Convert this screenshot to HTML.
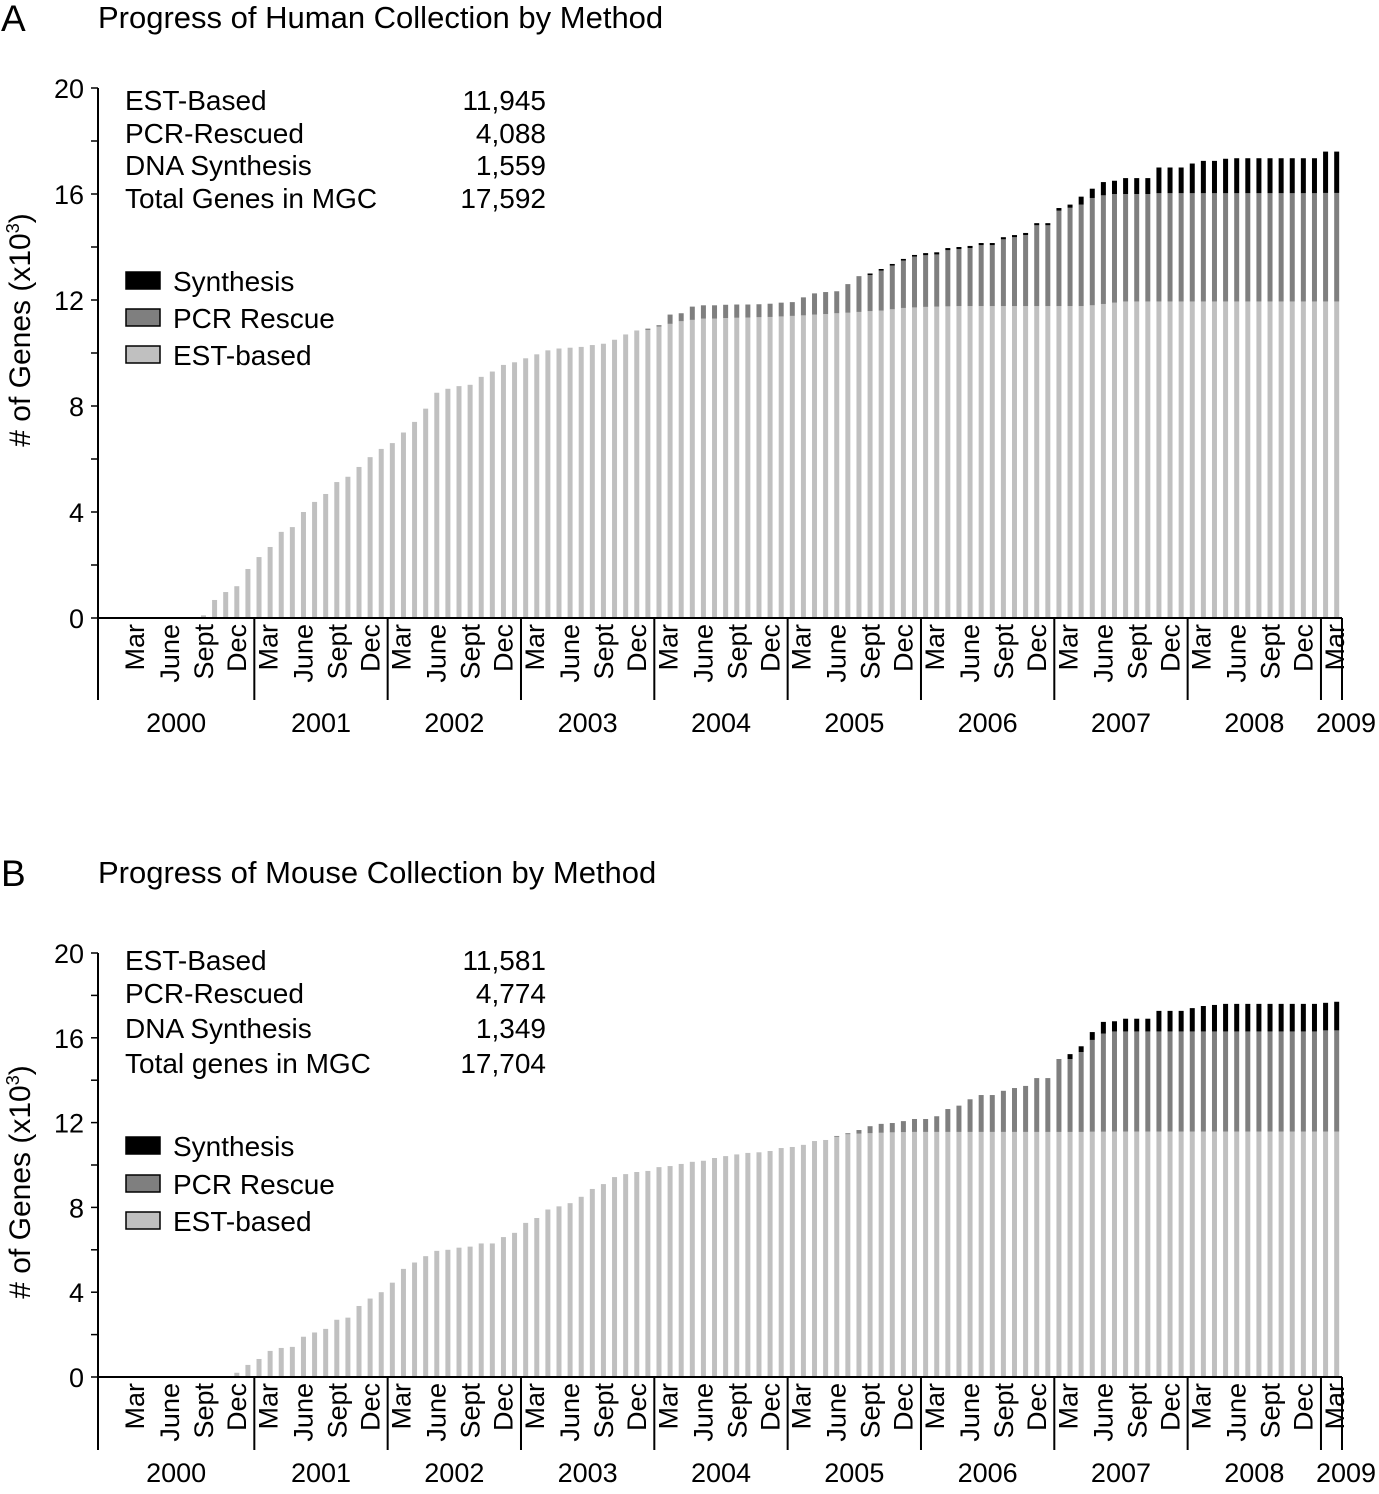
<!DOCTYPE html>
<html><head><meta charset="utf-8">
<style>
html,body{margin:0;padding:0;background:#fff;}
svg{display:block;font-family:"Liberation Sans",Arial,sans-serif;}
</style></head>
<body>
<svg id="fig" width="1379" height="1494" viewBox="0 0 1379 1494" xmlns="http://www.w3.org/2000/svg"></svg>
<script>
// Months run from Aug 2000 to Feb 2009 (values in thousands of genes)
const monthLabels = ["Mar","June","Sept","Dec"];
const yearLabels = ["2000","2001","2002","2003","2004","2005","2006","2007","2008","2009"];
const yTicks = [0,4,8,12,16,20];

const humanEst = [0.1,0.68,0.98,1.2,1.85,
 2.3,2.68,3.25,3.43,4.0,4.38,4.68,5.13,5.33,5.7,6.07,6.38,
 6.6,7.0,7.4,7.9,8.5,8.65,8.75,8.8,9.1,9.3,9.55,9.65,
 9.8,9.95,10.1,10.17,10.2,10.23,10.3,10.35,10.5,10.7,10.85,10.87,
 11.0,11.1,11.2,11.25,11.3,11.3,11.32,11.33,11.34,11.35,11.36,11.38,
 11.4,11.42,11.45,11.47,11.5,11.52,11.55,11.58,11.6,11.65,11.7,11.72,
 11.74,11.75,11.76,11.77,11.77,11.77,11.77,11.77,11.77,11.77,11.77,11.77,
 11.77,11.77,11.77,11.8,11.85,11.9,11.945,11.945,11.945,11.945,11.945,11.945,
 11.945,11.945,11.945,11.945,11.945,11.945,11.945,11.945,11.945,11.945,11.945,11.945,
 11.945,11.945];
const humanTotal = [0.1,0.68,0.98,1.2,1.85,
 2.3,2.68,3.25,3.43,4.0,4.38,4.68,5.13,5.33,5.7,6.07,6.38,
 6.6,7.0,7.4,7.9,8.5,8.65,8.75,8.8,9.1,9.3,9.55,9.65,
 9.8,9.95,10.1,10.17,10.2,10.23,10.3,10.35,10.5,10.7,10.85,10.92,
 11.05,11.45,11.5,11.75,11.8,11.8,11.82,11.83,11.83,11.84,11.86,11.9,
 11.92,12.1,12.25,12.3,12.33,12.6,12.9,13.0,13.17,13.36,13.55,13.7,
 13.77,13.8,13.96,14.0,14.04,14.15,14.15,14.37,14.45,14.53,14.9,14.9,
 15.47,15.6,15.9,16.2,16.45,16.5,16.6,16.6,16.6,17.0,17.0,17.0,
 17.15,17.25,17.25,17.33,17.35,17.35,17.35,17.35,17.35,17.35,17.35,17.35,
 17.6,17.6];
const humanSyn = [0,0,0,0,0,
 0,0,0,0,0,0,0,0,0,0,0,0,
 0,0,0,0,0,0,0,0,0,0,0,0,
 0,0,0,0,0,0,0,0,0,0,0,0,
 0,0,0,0,0,0,0,0,0,0,0,0,
 0,0,0,0,0,0,0,0.06,0.06,0.06,0.06,0.06,
 0.08,0.08,0.08,0.08,0.08,0.08,0.08,0.08,0.08,0.08,0.08,0.08,
 0.1,0.12,0.3,0.35,0.5,0.5,0.6,0.6,0.6,0.97,0.97,0.97,
 1.12,1.22,1.22,1.3,1.32,1.32,1.32,1.32,1.32,1.32,1.32,1.32,
 1.56,1.56];

const mouseEst = [0,0,0,0.2,0.57,
 0.85,1.23,1.37,1.42,1.9,2.1,2.27,2.7,2.8,3.35,3.7,4.0,
 4.45,5.1,5.4,5.7,5.95,6.0,6.1,6.15,6.3,6.3,6.6,6.8,
 7.27,7.5,7.9,8.05,8.2,8.5,8.87,9.1,9.43,9.57,9.67,9.72,
 9.9,9.95,10.05,10.15,10.2,10.33,10.42,10.5,10.57,10.6,10.66,10.8,
 10.85,10.95,11.13,11.18,11.33,11.45,11.48,11.5,11.52,11.54,11.55,11.56,
 11.56,11.56,11.56,11.56,11.56,11.56,11.56,11.56,11.56,11.56,11.56,11.56,
 11.56,11.56,11.56,11.57,11.57,11.58,11.58,11.58,11.58,11.58,11.58,11.58,
 11.58,11.58,11.58,11.58,11.58,11.58,11.58,11.58,11.58,11.58,11.58,11.58,
 11.58,11.58];
const mouseTotal = [0,0,0,0.2,0.57,
 0.85,1.23,1.37,1.42,1.9,2.1,2.27,2.7,2.8,3.35,3.7,4.0,
 4.45,5.1,5.4,5.7,5.95,6.0,6.1,6.15,6.3,6.3,6.6,6.8,
 7.27,7.5,7.9,8.05,8.2,8.5,8.87,9.1,9.43,9.57,9.67,9.72,
 9.9,9.95,10.05,10.15,10.2,10.33,10.42,10.5,10.57,10.6,10.66,10.8,
 10.85,10.95,11.13,11.18,11.37,11.5,11.65,11.83,11.94,11.98,12.07,12.17,
 12.17,12.3,12.64,12.8,13.1,13.3,13.3,13.5,13.63,13.73,14.1,14.1,
 15.0,15.23,15.6,16.27,16.75,16.78,16.9,16.9,16.9,17.27,17.27,17.27,
 17.4,17.5,17.55,17.6,17.6,17.6,17.6,17.6,17.6,17.6,17.6,17.6,
 17.65,17.7];
const mouseSyn = [0,0,0,0,0,
 0,0,0,0,0,0,0,0,0,0,0,0,
 0,0,0,0,0,0,0,0,0,0,0,0,
 0,0,0,0,0,0,0,0,0,0,0,0,
 0,0,0,0,0,0,0,0,0,0,0,0,
 0,0,0,0,0,0,0,0,0,0,0,0,
 0,0,0,0,0,0,0,0,0,0,0,0,
 0,0.23,0.27,0.37,0.55,0.48,0.6,0.6,0.6,0.97,0.97,0.97,
 1.1,1.2,1.25,1.3,1.3,1.3,1.3,1.3,1.3,1.3,1.3,1.3,
 1.3,1.35];

const humanStats = [["EST-Based","11,945"],["PCR-Rescued","4,088"],["DNA Synthesis","1,559"],["Total Genes in MGC","17,592"]];
const mouseStats = [["EST-Based","11,581"],["PCR-Rescued","4,774"],["DNA Synthesis","1,349"],["Total genes in MGC","17,704"]];

const NS="http://www.w3.org/2000/svg";
const svg=document.getElementById('fig');
function mk(tag,attrs,parent){const e=document.createElementNS(NS,tag);for(const k in attrs)e.setAttribute(k,attrs[k]);(parent||svg).appendChild(e);return e;}
function txt(s,attrs,parent){const e=mk('text',attrs,parent);e.textContent=s;return e;}

const X0=98, XEND=1342, MONTH=11.11, FIRST_CENTER=125.7, START_M=7;
function xMonth(i){return FIRST_CENTER+MONTH*(START_M+i);}
function yearStart(k){return 121+133.33*k;}

function panel(opt){
  const g=mk('g',{});
  
  
  const y0=opt.y0, y20=opt.y20, bottom=opt.bottom;
  const yS=v=>y0-(y0-y20)*v/20;
  const lbl=txt(opt.letter,{x:1,y:opt.titleY+13,'font-size':37},g);
  
  const t=txt(opt.title,{x:98,y:opt.titleY+10,'font-size':31},g);
  
  // bars
  const bars=mk('g',{},g);
  
  for(let i=0;i<opt.est.length;i++){
    const cx=xMonth(i), w=5;
    const e=opt.est[i], s=opt.syn[i], tot=opt.total[i], p=Math.max(0,tot-e-s);
    if(e>0){const r=mk('rect',{x:cx-w/2,y:yS(e),width:w,height:yS(0)-yS(e),fill:'#c0c0c0'},bars);
      }
    if(p>0){const r=mk('rect',{x:cx-w/2,y:yS(e+p),width:w,height:yS(e)-yS(e+p),fill:'#7f7f7f'},bars);
      }
    if(s>0){const r=mk('rect',{x:cx-w/2,y:yS(e+p+s),width:w,height:yS(e+p)-yS(e+p+s),fill:'#000'},bars);
      }
  }
  // y axis
  const ya=mk('line',{x1:X0,y1:yS(20),x2:X0,y2:bottom,stroke:'#000','stroke-width':2},g);
  
  for(let v=0;v<=20;v+=2){mk('line',{x1:X0-7,y1:yS(v),x2:X0,y2:yS(v),stroke:'#000','stroke-width':1.5},g);}
  yTicks.forEach(v=>{const tl=txt(String(v),{x:84,y:yS(v)+10,'font-size':27,'text-anchor':'end'},g);
    });
  const yc=opt.yTitleC;
  const yt=txt('',{transform:`translate(30,${yc}) rotate(-90)`,'font-size':30,'text-anchor':'middle'},g);
  
  yt.appendChild(document.createTextNode('# of Genes (x10'));
  const sup=mk('tspan',{'font-size':18,dy:-11},yt);sup.textContent='3';
  const cl=mk('tspan',{dy:11},yt);cl.textContent=')';
  // x axis
  const xa=mk('line',{x1:X0,y1:yS(0),x2:XEND,y2:yS(0),stroke:'#000','stroke-width':2},g);
  
  for(let k=1;k<yearLabels.length;k++){mk('line',{x1:yearStart(k),y1:yS(0),x2:yearStart(k),y2:bottom,stroke:'#000','stroke-width':2},g);}
  mk('line',{x1:XEND,y1:yS(0),x2:XEND,y2:bottom,stroke:'#000','stroke-width':2},g);
  const offs=[13,48,82,115];
  yearLabels.forEach((yl,k)=>{
    const n=(k===yearLabels.length-1)?1:4;
    for(let j=0;j<n;j++){
      const mx=yearStart(k)+offs[j]+10;
      const ml=txt(monthLabels[j],{transform:`translate(${mx},${yS(0)+6}) rotate(-90)`,'font-size':27,'text-anchor':'end'},g);
      
    }
    const a=k===0?X0:yearStart(k), b=k===yearLabels.length-1?XEND+6:yearStart(k+1);
    const cx=k===yearLabels.length-1?1346:(a+b)/2;
    const ylb=txt(yl,{x:cx,y:bottom+32,'font-size':27,'text-anchor':'middle'},g);
    
  });
  // stats
  opt.stats.forEach((r,i)=>{
    const yy=opt.statY[i]+10;
    const a=txt(r[0],{x:125,y:yy,'font-size':28},g);
    
    const b=txt(r[1],{x:546,y:yy,'font-size':28,'text-anchor':'end'},g);
    
  });
  // legend
  const leg=[["Synthesis","#000"],["PCR Rescue","#7f7f7f"],["EST-based","#c0c0c0"]];
  leg.forEach((l,i)=>{
    const yy=opt.legY[i];
    const sw=mk('rect',{x:126,y:yy-9,width:34,height:17,fill:l[1],stroke:'#000','stroke-width':1.5},g);
    
    const lt=txt(l[0],{x:173,y:yy+10,'font-size':28},g);
    
  });
}

panel({name:'human-chart',letter:'A',title:'Progress of Human Collection by Method',titleY:18,y0:618,y20:88,bottom:700,yTitleC:330,
  est:humanEst,total:humanTotal,syn:humanSyn,stats:humanStats,statY:[100,133,165,198],legY:[281,318,355]});
panel({name:'mouse-chart',letter:'B',title:'Progress of Mouse Collection by Method',titleY:873,y0:1377,y20:953,bottom:1450,yTitleC:1182,
  est:mouseEst,total:mouseTotal,syn:mouseSyn,stats:mouseStats,statY:[960,993,1028,1063],legY:[1146,1184,1221]});
</script>
</body></html>
